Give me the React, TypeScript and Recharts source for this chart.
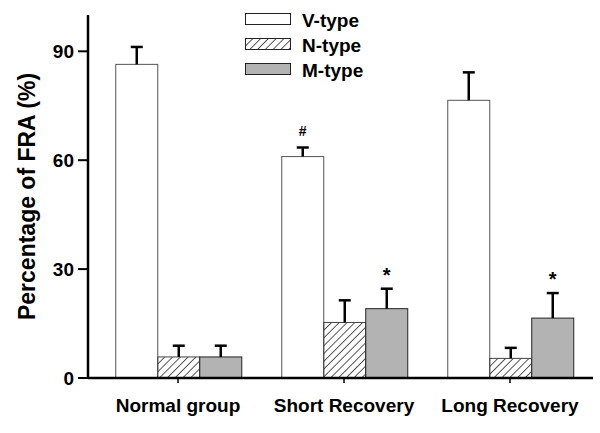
import React from 'react';
import { BarChart, Bar, XAxis, YAxis, Legend, LabelList } from 'recharts';

const categories = ['Normal group', 'Short Recovery', 'Long Recovery'];

const vType = [86.4, 61.0, 76.5];
const vErr = [4.8, 2.5, 7.7];
const nType = [5.8, 15.3, 5.4];
const nErr = [3.1, 6.1, 2.9];
const mType = [5.8, 19.1, 16.5];
const mErr = [3.1, 5.5, 6.9];

// significance marks drawn above the error bars
const vMarks = ['', '#', ''];
const mMarks = ['', '*', '*'];

const yTicks = [0, 30, 60, 90];

const FONT = '"Liberation Sans", Arial, Helvetica, sans-serif';
const GRAY = '#b3b3b3';

const data = categories.map((name, i) => ({
  name,
  v: vType[i],
  n: nType[i],
  m: mType[i],
}));

// bar rect plus an upper-only error bar, scaled from the bar's own pixel height
const barWithError = (key: string, errs: number[], stroke: string) => (props: any) => {
  const { x, y, width, height, fill, index, payload } = props;
  const val = Number(payload[key]);
  const errPx = val ? (errs[index] * height) / val : 0;
  const cx = x + width / 2;
  const top = y - errPx;
  return (
    <g>
      <rect x={x} y={y} width={width} height={height} fill={fill} stroke={stroke} strokeWidth={1} />
      <line x1={cx} y1={y} x2={cx} y2={top} stroke="#000" strokeWidth={2.5} />
      <line x1={cx - 6} y1={top} x2={cx + 6} y2={top} stroke="#000" strokeWidth={2.5} />
    </g>
  );
};

const markLabel = (marks: string[], errs: number[], fontSize: number, gap: number) => (props: any) => {
  const idx = props.index;
  const mark = marks[idx];
  if (!mark) return null;
  const vb = props.viewBox || props;
  const h = Math.abs(vb.height);
  const val = Number(props.value);
  const errPx = val ? (errs[idx] * h) / val : 0;
  return (
    <text
      x={vb.x + vb.width / 2}
      y={vb.y - errPx - gap}
      textAnchor="middle"
      fontFamily={FONT}
      fontWeight="bold"
      fontSize={fontSize}
      fill="#000"
    >
      {mark}
    </text>
  );
};

const legendItems = [
  { name: 'V-type', fill: '#fff' },
  { name: 'N-type', fill: 'url(#hatchLegend)' },
  { name: 'M-type', fill: GRAY },
];

function LegendBox() {
  return (
    <svg width={160} height={84} style={{ display: 'block' }}>
      <defs>
        <pattern id="hatchLegend" patternUnits="userSpaceOnUse" width={5.5} height={5.5} patternTransform="rotate(45)">
          <line x1={0} y1={0} x2={0} y2={5.5} stroke="#000" strokeWidth={1.3} />
        </pattern>
      </defs>
      {legendItems.map((it, i) => (
        <g key={it.name} transform={`translate(0, ${4 + i * 25})`}>
          <rect x={0.5} y={0.5} width={45} height={11} fill={it.fill} stroke="#222" strokeWidth={1} />
          <text x={57} y={14} fontFamily={FONT} fontWeight="bold" fontSize={19} fill="#000">
            {it.name}
          </text>
        </g>
      ))}
    </svg>
  );
}

export default function App() {
  return (
    <div style={{ position: 'absolute', left: 0, top: 0, width: 600, height: 433, background: '#fff' }}>
      <svg width={0} height={0} style={{ position: 'absolute' }}>
        <defs>
          <pattern id="hatch" patternUnits="userSpaceOnUse" width={5.5} height={5.5} patternTransform="rotate(45)">
            <line x1={0} y1={0} x2={0} y2={5.5} stroke="#000" strokeWidth={1.3} />
          </pattern>
        </defs>
      </svg>
      <BarChart
        width={600}
        height={433}
        data={data}
        margin={{ top: 15, right: 7, left: 0, bottom: 0 }}
        barCategoryGap="12.5%"
        barGap={0}
      >
        <XAxis
          dataKey="name"
          height={55}
          padding={{ left: 7, right: 0 }}
          axisLine={{ stroke: '#000', strokeWidth: 2.5 }}
          tickLine={{ stroke: '#000', strokeWidth: 1.5 }}
          tickSize={5}
          tickMargin={16}
          tick={{ fill: '#000', fontSize: 19, fontWeight: 'bold', fontFamily: FONT }}
          interval={0}
        />
        <YAxis
          width={88}
          domain={[0, 100]}
          ticks={yTicks}
          axisLine={{ stroke: '#000', strokeWidth: 2.5 }}
          tickLine={{ stroke: '#000', strokeWidth: 2 }}
          tickSize={10}
          tickMargin={4}
          tick={{ fill: '#000', fontSize: 19, fontWeight: 'bold', fontFamily: FONT }}
          label={{
            value: 'Percentage of FRA (%)',
            angle: -90,
            position: 'center',
            dx: -17,
            style: { fill: '#000', fontSize: 23, fontWeight: 'bold', fontFamily: FONT, textAnchor: 'middle' },
          }}
        />
        <Legend
          layout="vertical"
          align="center"
          verticalAlign="middle"
          content={() => <LegendBox />}
          wrapperStyle={{ left: 245, top: 9, width: 160, height: 84 }}
        />
        <Bar dataKey="v" name="V-type" fill="#fff" shape={barWithError('v', vErr, '#555')} isAnimationActive={false}>
          <LabelList dataKey="v" content={markLabel(vMarks, vErr, 14, 11)} />
        </Bar>
        <Bar dataKey="n" name="N-type" fill="url(#hatch)" shape={barWithError('n', nErr, '#444')} isAnimationActive={false} />
        <Bar dataKey="m" name="M-type" fill={GRAY} shape={barWithError('m', mErr, '#222')} isAnimationActive={false}>
          <LabelList dataKey="m" content={markLabel(mMarks, mErr, 20, 7)} />
        </Bar>
      </BarChart>
    </div>
  );
}
